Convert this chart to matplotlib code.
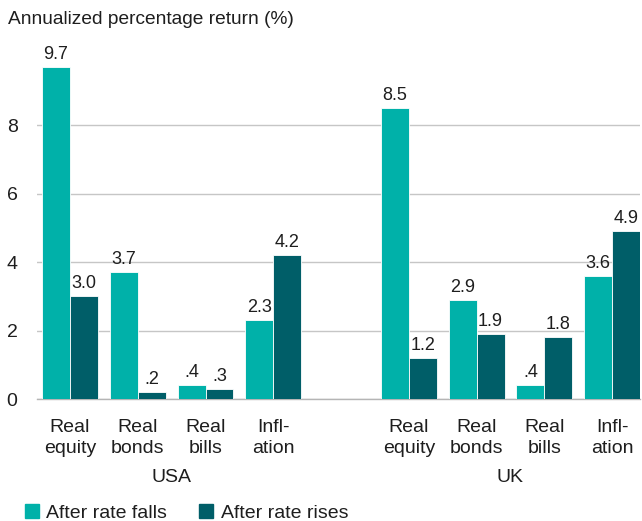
import numpy as np
import matplotlib
matplotlib.use("Agg")
import matplotlib.pyplot as plt
from matplotlib.lines import Line2D

plt.rcParams['font.family'] = ['Liberation Sans', 'DejaVu Sans']

# data
categories = ["Real\nequity", "Real\nbonds", "Real\nbills", "Infl-\nation"]
groups = ["USA", "UK"]
falls = [9.7, 3.7, 0.4, 2.3, 8.5, 2.9, 0.4, 3.6]
rises = [3.0, 0.2, 0.3, 4.2, 1.2, 1.9, 1.8, 4.9]
falls_lbl = ["9.7", "3.7", ".4", "2.3", "8.5", "2.9", ".4", "3.6"]
rises_lbl = ["3.0", ".2", ".3", "4.2", "1.2", "1.9", "1.8", "4.9"]

c_falls = "#00b1a9"
c_rises = "#005e68"
txt = "#1e1e1e"

fig = plt.figure(figsize=(6.42, 5.21), dpi=100)
ax = fig.add_axes([0.0576, 0.234, 0.9394, 0.6574])

pos = np.array([0, 1, 2, 3, 5, 6, 7, 8])
w = 0.413

ax.bar(pos - w / 2, falls, w, color=c_falls, edgecolor="white", linewidth=0.6, zorder=3)
ax.bar(pos + w / 2, rises, w, color=c_rises, edgecolor="white", linewidth=0.6, zorder=3)

for x, v, s in zip(pos - w / 2, falls, falls_lbl):
    ax.text(x, v + 0.12, s, ha="center", va="bottom", fontsize=13, color=txt, zorder=4)
for x, v, s in zip(pos + w / 2, rises, rises_lbl):
    ax.text(x, v + 0.12, s, ha="center", va="bottom", fontsize=13, color=txt, zorder=4)

ax.set_xlim(-0.487, 8.413)
ax.set_ylim(0, 10)
ax.set_yticks([0, 2, 4, 6, 8])
ax.set_yticklabels(["0", "2", "4", "6", "8"], fontsize=14, color=txt)
ax.tick_params(axis="y", length=0, pad=14)
ax.set_xticks(pos)
ax.set_xticklabels(categories * 2, fontsize=14, color=txt, linespacing=1.32)
ax.tick_params(axis="x", length=0, pad=14)

ax.grid(axis="y", color="#c6c6c6", linewidth=1, zorder=0)
ax.set_axisbelow(True)
for sp in ["top", "right", "left"]:
    ax.spines[sp].set_visible(False)
ax.spines["bottom"].set_color("#b5b5b5")
ax.spines["bottom"].set_linewidth(1)

# group labels
ax.text(1.5, -2.3, groups[0], ha="center", va="center", fontsize=14, color=txt)
ax.text(6.5, -2.3, groups[1], ha="center", va="center", fontsize=14, color=txt)

fig.text(0.012, 0.963, "Annualized percentage return (%)", ha="left", va="center",
         fontsize=13.8, color=txt)

handles = [Line2D([], [], marker="s", linestyle="none", markersize=10, color=c_falls),
           Line2D([], [], marker="s", linestyle="none", markersize=10, color=c_rises)]
fig.legend(handles, ["After rate falls", "After rate rises"], loc="lower left",
           bbox_to_anchor=(0.007, -0.035), ncol=2, frameon=False, fontsize=14,
           handletextpad=0.25, columnspacing=1.5, handlelength=1.0, labelcolor=txt)

fig.savefig("out.png", dpi=100)
